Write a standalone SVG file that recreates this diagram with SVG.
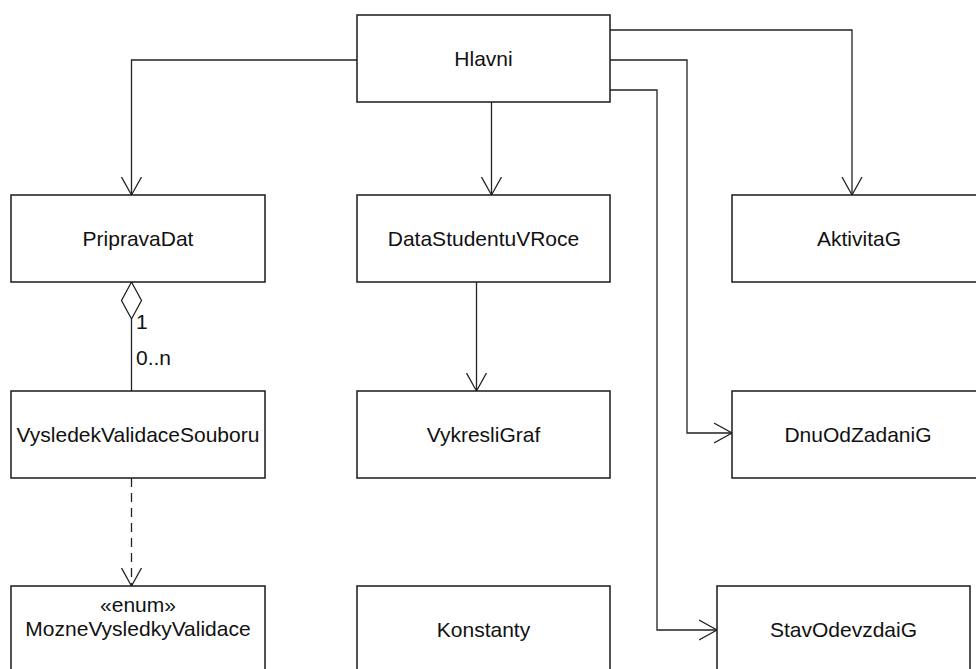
<svg xmlns="http://www.w3.org/2000/svg" width="976" height="669" viewBox="0 0 976 669">
<defs>
<style>
.box{fill:#fff;stroke:#1a1a1a;stroke-width:1.5}
.lbl{font-family:"Liberation Sans",Arial,sans-serif;font-size:21px;fill:#111;text-anchor:middle}
.mult{font-family:"Liberation Sans",Arial,sans-serif;font-size:21px;fill:#111}
.ln{fill:none;stroke:#222;stroke-width:1.3}
.dash{stroke-dasharray:9,6}
</style>
<marker id="open" markerWidth="20" markerHeight="22" refX="18" refY="10" orient="auto" markerUnits="userSpaceOnUse" viewBox="0 0 20 20">
<path d="M0,0 L18,10 L0,20" fill="none" stroke="#222" stroke-width="1.3"/>
</marker>
</defs>
<rect width="976" height="669" fill="#fff"/>
<g id="connectors">
<polyline class="ln" points="357,60 131.5,60 131.5,195" marker-end="url(#open)"/>
<line class="ln" x1="491.5" y1="102" x2="491.5" y2="195" marker-end="url(#open)"/>
<polyline class="ln" points="610,30 852,30 852,195" marker-end="url(#open)"/>
<polyline class="ln" points="610,60 687,60 687,433 732,433" marker-end="url(#open)"/>
<polyline class="ln" points="610,90 657,90 657,630 717,630" marker-end="url(#open)"/>
<line class="ln" x1="476.5" y1="282" x2="476.5" y2="391" marker-end="url(#open)"/>
<line class="ln" x1="131.5" y1="319" x2="131.5" y2="391"/>
<polygon points="131.5,282 141.5,300.5 131.5,319 121.5,300.5" fill="#fff" stroke="#222" stroke-width="1.3"/>
<text class="mult" x="136" y="329">1</text>
<text class="mult" x="136" y="365">0..n</text>
<line class="ln dash" x1="131.5" y1="478" x2="131.5" y2="586" marker-end="url(#open)"/>
</g>
<g id="Hlavni"><rect class="box" x="357" y="15" width="253" height="87"/><text class="lbl" x="483.5" y="66">Hlavni</text></g>
<g id="PripravaDat"><rect class="box" x="11" y="195" width="254" height="87"/><text class="lbl" x="138" y="246">PripravaDat</text></g>
<g id="DataStudentuVRoce"><rect class="box" x="357" y="195" width="253" height="87"/><text class="lbl" x="483.5" y="246">DataStudentuVRoce</text></g>
<g id="AktivitaG"><rect class="box" x="732" y="195" width="254" height="87"/><text class="lbl" x="859" y="246">AktivitaG</text></g>
<g id="VysledekValidaceSouboru"><rect class="box" x="11" y="391" width="254" height="87"/><text class="lbl" x="138" y="442">VysledekValidaceSouboru</text></g>
<g id="VykresliGraf"><rect class="box" x="357" y="391" width="253" height="87"/><text class="lbl" x="483.5" y="442">VykresliGraf</text></g>
<g id="DnuOdZadaniG"><rect class="box" x="732" y="391" width="254" height="87"/><text class="lbl" x="858" y="442">DnuOdZadaniG</text></g>
<g id="MozneVysledkyValidace"><rect class="box" x="11" y="586" width="254" height="87"/><text class="lbl" x="138" y="612">«enum»</text><text class="lbl" x="138" y="636">MozneVysledkyValidace</text></g>
<g id="Konstanty"><rect class="box" x="357" y="586" width="253" height="87"/><text class="lbl" x="483.5" y="637">Konstanty</text></g>
<g id="StavOdevzdaiG"><rect class="box" x="717" y="586" width="253" height="87"/><text class="lbl" x="843.5" y="637">StavOdevzdaiG</text></g>
</svg>
